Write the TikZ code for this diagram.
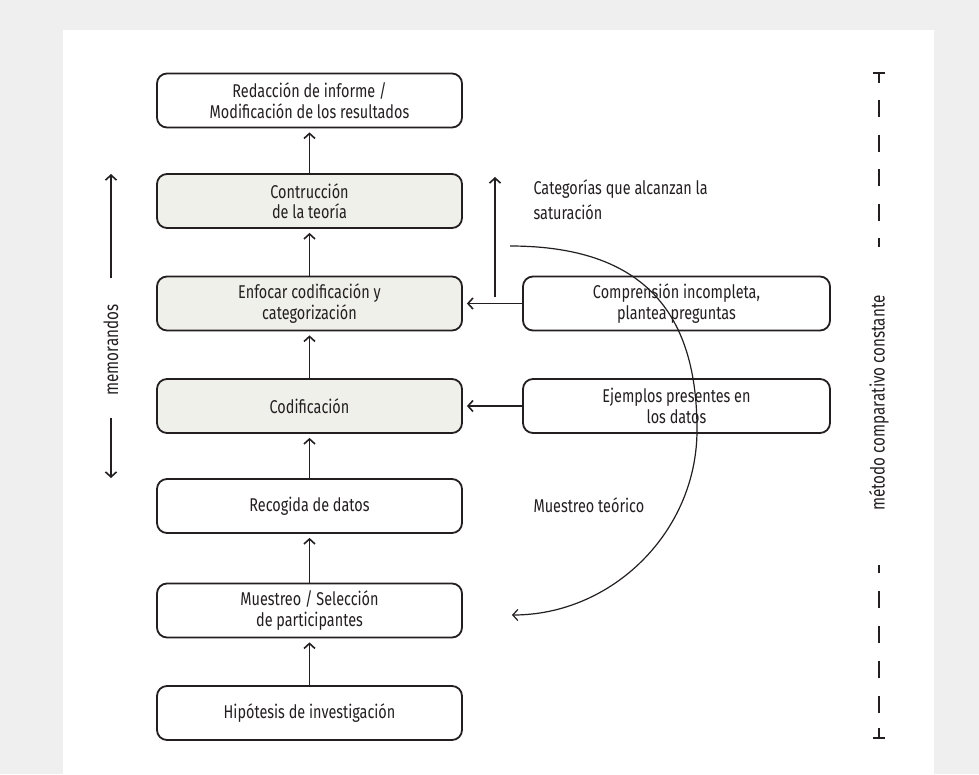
\documentclass[tikz,border=0pt]{standalone}
\usepackage{fontspec}
\setmainfont{Fira Sans}[FakeStretch=0.78]
\usetikzlibrary{arrows.meta}
\definecolor{ink}{HTML}{231F20}
\definecolor{pagegray}{HTML}{EFEFEF}
\definecolor{stepfill}{HTML}{F0F0EB}
\tikzset{
  box/.style={draw=ink, line width=1.8pt, rounded corners=10pt,
    minimum width=305pt, minimum height=54pt, align=center,
    text=ink, font=\fontsize{18.5}{20.5}\selectfont},
  plainbox/.style={box, fill=white},
  greybox/.style={box, fill=stepfill},
  arr/.style={draw=ink, line width=1.6pt,
    -{Straight Barb[length=5pt,width=11pt]}},
  gaparr/.style={arr, shorten >=4pt},
  lbl/.style={text=ink, align=left, font=\fontsize{18.5}{25}\selectfont},
  sidelbl/.style={text=ink, font=\fontsize{19.5}{22}\selectfont},
  dashbar/.style={draw=ink, line width=1.5pt},
}
\begin{document}
\begin{tikzpicture}[x=1pt,y=-1pt]
  \fill[pagegray] (0,0) rectangle (979,774);
  \fill[white] (63,30) rectangle (934,774);
  \useasboundingbox (0,0) rectangle (979,774);

  \node[plainbox] (informe) at (309.5,100.5) {Redacción de informe /\\Modificación de los resultados};
  \node[greybox] (teoria) at (309.5,201) {Contrucción\\de la teoría};
  \node[greybox] (enfocar) at (309.5,303.5) {Enfocar codificación y\\categorización};
  \node[greybox] (codif) at (309.5,406) {Codificación};
  \node[plainbox] (recogida) at (309.5,506) {Recogida de datos};
  \node[plainbox] (muestreo) at (309.5,610.5) {Muestreo / Selección\\de participantes};
  \node[plainbox] (hipotesis) at (309.5,713) {Hipótesis de investigación};

  \node[plainbox, minimum width=307pt] (comprension) at (676.5,303.5) {Comprensión incompleta,\\plantea preguntas};
  \node[plainbox, minimum width=307pt] (ejemplos) at (676.5,406) {Ejemplos presentes en\\los datos};

  \draw[gaparr] (teoria) -- (informe);
  \draw[gaparr] (enfocar) -- (teoria);
  \draw[gaparr] (codif) -- (enfocar);
  \draw[gaparr] (recogida) -- (codif);
  \draw[gaparr] (muestreo) -- (recogida);
  \draw[gaparr] (hipotesis) -- (muestreo);
  \draw[gaparr] (comprension) -- (enfocar);
  \draw[gaparr] (ejemplos) -- (codif);

  \coordinate (satbase) at (495,297);
  \coordinate (sattop) at (495,177);
  \draw[arr] (satbase) -- (sattop);
  \node[lbl, anchor=west] (saturacion) at (530,200) {Categorías que alcanzan la\\saturación};

  \coordinate (loopstart) at (510,246);
  \coordinate (loopright) at (697,430);
  \coordinate (loopend) at (512,615);
  \draw[arr, line width=1.2pt] (loopstart) .. controls (655,246) and (697,325) .. (loopright)
    .. controls (697,532) and (612,615) .. (loopend);
  \node[lbl, anchor=west] (teorico) at (530,505) {Muestreo teórico};

  \node[sidelbl, rotate=90] (memo) at (111,350) {memorandos};
  \coordinate (memoA) at (111,278);
  \coordinate (memotop) at (111,174);
  \coordinate (memoB) at (111,418);
  \coordinate (memobot) at (111,478);
  \draw[arr] (memoA) -- (memotop);
  \draw[arr] (memoB) -- (memobot);

  \node[sidelbl, rotate=90] (metodo) at (879,403) {método comparativo constante};
  \draw[dashbar] (873,73) -- (885,73) (879,73) -- (879,83);
  \draw[dashbar, dash pattern=on 17pt off 17.5pt] (879,100) -- (879,247);
  \draw[dashbar, dash pattern=on 17pt off 18pt] (879,713) -- (879,565);
  \draw[dashbar] (873,738) -- (885,738) (879,738) -- (879,728);
\end{tikzpicture}
\end{document}
